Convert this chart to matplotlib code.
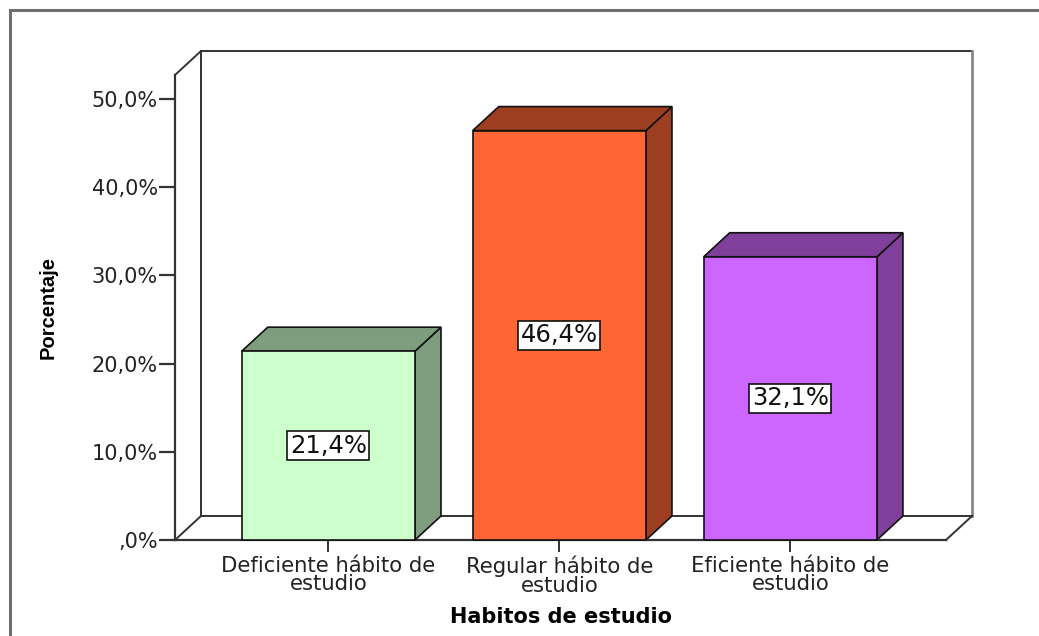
import matplotlib
matplotlib.use("Agg")
import matplotlib.pyplot as plt
from matplotlib.patches import Polygon, Rectangle
from matplotlib.lines import Line2D
from matplotlib.ticker import FuncFormatter, MultipleLocator

# Datos
categorias = ["Deficiente hábito de\nestudio", "Regular hábito de\nestudio", "Eficiente hábito de\nestudio"]
porcentajes = [21.4, 46.4, 32.1]
etiquetas = ["21,4%", "46,4%", "32,1%"]
color_frente = ["#CCFFCC", "#FF6633", "#CC66FF"]
color_lado = ["#7E9C7E", "#9E3E20", "#7F3F9B"]

W, H = 1039, 636
fig = plt.figure(figsize=(W / 100, H / 100), dpi=100)
fig.patch.set_facecolor("white")

# marco exterior
fig.add_artist(Line2D([10 / W, 10 / W], [0, 1 - 10 / H], color="#6f6f6f", lw=2.2))
fig.add_artist(Line2D([10 / W, 1], [1 - 10 / H, 1 - 10 / H], color="#6f6f6f", lw=2.2))

ax = fig.add_axes([175 / W, 96 / H, 771 / W, 465 / H])
xmin, xmax = -0.664, 2.674
ymin, ymax = 0, 52.7
ax.set_xlim(xmin, xmax)
ax.set_ylim(ymin, ymax)

# profundidad 3D en unidades de datos (26 px derecha, 24 px arriba)
dx = 26 / (771 / (xmax - xmin))
dy = 24 / (465 / (ymax - ymin))

for s in ["top", "right"]:
    ax.spines[s].set_visible(False)
for s in ["left", "bottom"]:
    ax.spines[s].set_color("#333333")
    ax.spines[s].set_linewidth(1.6)

# pared del fondo y suelo
kw = dict(clip_on=False, zorder=1)
ax.plot([xmin + dx, xmin + dx], [dy, ymax + dy], color="#333333", lw=1.4, **kw)
ax.plot([xmin + dx, xmax + dx], [ymax + dy, ymax + dy], color="#333333", lw=1.4, **kw)
ax.plot([xmax + dx, xmax + dx], [dy, ymax + dy], color="#888888", lw=2.0, **kw)
ax.plot([xmin + dx, xmax + dx], [dy, dy], color="#333333", lw=1.4, **kw)
ax.plot([xmin, xmin + dx], [ymax, ymax + dy], color="#333333", lw=1.4, **kw)
ax.plot([xmin, xmin + dx], [0, dy], color="#333333", lw=1.4, **kw)
ax.plot([xmax, xmax + dx], [0, dy], color="#333333", lw=1.4, **kw)

ancho = 0.75
for i, v in enumerate(porcentajes):
    x0, x1 = i - ancho / 2, i + ancho / 2
    ax.add_patch(Rectangle((x0, 0), ancho, v, fc=color_frente[i], ec="#111111", lw=1.2, zorder=3, clip_on=False))
    ax.add_patch(Polygon([(x1, 0), (x1 + dx, dy), (x1 + dx, v + dy), (x1, v)],
                         closed=True, fc=color_lado[i], ec="#111111", lw=1.2, zorder=2, clip_on=False))
    ax.add_patch(Polygon([(x0, v), (x1, v), (x1 + dx, v + dy), (x0 + dx, v + dy)],
                         closed=True, fc=color_lado[i], ec="#111111", lw=1.2, zorder=2, clip_on=False))
    ax.text(i, v / 2, etiquetas[i], ha="center", va="center", fontsize=17.5, color="#111111", zorder=5,
            bbox=dict(boxstyle="square,pad=0.1", fc="white", ec="#111111", lw=1.2))

ax.yaxis.set_major_locator(MultipleLocator(10))
ax.yaxis.set_major_formatter(FuncFormatter(lambda v, p: ("%.1f%%" % v).replace(".", ",") if v != 0 else ",0%"))
ax.tick_params(axis="y", length=11.5, width=1.6, color="#333333", pad=1, labelsize=15, labelcolor="#222222")
ax.set_xticks(range(len(categorias)))
ax.set_xticklabels(categorias, linespacing=0.88)
ax.tick_params(axis="x", length=8.5, width=1.4, color="#333333", pad=3, labelsize=15.2, labelcolor="#222222")

ax.set_xlabel("Habitos de estudio", fontsize=15, fontweight="bold", labelpad=8)

ax.set_ylabel("Porcentaje", fontsize=14.5, fontweight="bold", family="Liberation Sans")
ax.yaxis.set_label_coords((58 - 175) / 771, 0.5)

fig.savefig("out.png", dpi=100, facecolor="white")
